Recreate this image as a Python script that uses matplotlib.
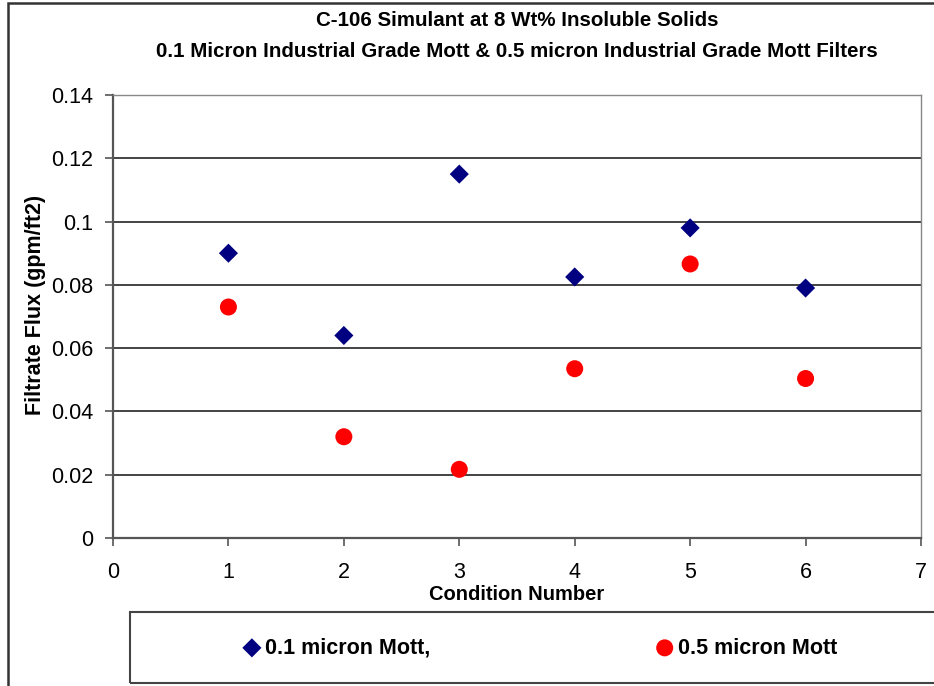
"""Filtrate flux vs. condition number for the C-106 simulant runs,
0.1 micron and 0.5 micron Mott filters. Writes out.png."""

import matplotlib
matplotlib.use("Agg")
import matplotlib.pyplot as plt
from matplotlib.patches import Rectangle

plt.rcParams["font.family"] = ["Liberation Sans", "DejaVu Sans"]

conditions = [1, 2, 3, 4, 5, 6]
flux_01_micron = [0.090, 0.064, 0.115, 0.0825, 0.098, 0.079]
flux_05_micron = [0.073, 0.032, 0.0217, 0.0535, 0.0866, 0.0504]

title = ("C-106 Simulant at 8 Wt% Insoluble Solids\n"
         "0.1 Micron Industrial Grade Mott & 0.5 micron Industrial Grade Mott Filters")
y_ticks = [0, 0.02, 0.04, 0.06, 0.08, 0.1, 0.12, 0.14]
y_tick_labels = ["0", "0.02", "0.04", "0.06", "0.08", "0.1", "0.12", "0.14"]
x_ticks = [0, 1, 2, 3, 4, 5, 6, 7]

W, H = 934, 686
fig = plt.figure(figsize=(W / 100, H / 100), dpi=100)

# outer chart frame
fig.patches.append(Rectangle((8 / W, -0.05), 1.1, 1 - 3 / H + 0.05,
                             transform=fig.transFigure, fill=False,
                             edgecolor="#333333", linewidth=1.8))

ax = fig.add_axes([113 / W, 1 - 538 / H, (921 - 113) / W, (538 - 95) / H])
ax.scatter(conditions, flux_01_micron, marker="D", s=95, color="#000080",
           edgecolors="none", label="0.1 micron Mott,", zorder=3)
ax.scatter(conditions, flux_05_micron, marker="o", s=150, color="#ff0000",
           edgecolors="none", label="0.5 micron Mott", zorder=3)

ax.set_xlim(0, 7)
ax.set_ylim(0, 0.14)
ax.set_xticks(x_ticks)
ax.set_yticks(y_ticks)
ax.set_yticklabels(y_tick_labels)
ax.tick_params(axis="y", direction="out", length=6, width=1.2,
               color="#555555", labelsize=15.5, pad=8)
ax.tick_params(axis="x", direction="out", length=6, width=1.2,
               color="#555555", labelsize=15.5, pad=11)
ax.grid(axis="y", color="#111111", linewidth=1.1)
ax.set_axisbelow(True)
for side in ("left", "bottom"):
    ax.spines[side].set_color("#555555")
    ax.spines[side].set_linewidth(1.6)
for side in ("top", "right"):
    ax.spines[side].set_color("#888888")
    ax.spines[side].set_linewidth(1.0)

ax.set_xlabel("Condition Number", fontsize=14.5, fontweight="bold", labelpad=2)
ax.set_ylabel("Filtrate Flux (gpm/ft2)", fontsize=15.5, fontweight="bold")
ax.yaxis.set_label_coords(-67 / (921 - 113), 0.525)
fig.text(517 / W, 1 - 36 / H, title, ha="center", va="center",
         fontsize=14.8, fontweight="bold", linespacing=1.75)

# legend box below the plot
fig.patches.append(Rectangle((130 / W, 1 - 683 / H), 1.0, (683 - 612) / H,
                             transform=fig.transFigure, fill=False,
                             edgecolor="#444444", linewidth=1.5))
fig.legend(loc="center", bbox_to_anchor=(539 / W, 1 - 648 / H), ncol=2,
           frameon=False, prop={"size": 15.5, "weight": "bold"},
           handletextpad=0.1, columnspacing=10.4, handlelength=1.0,
           borderpad=0)

fig.savefig("out.png", dpi=100)
